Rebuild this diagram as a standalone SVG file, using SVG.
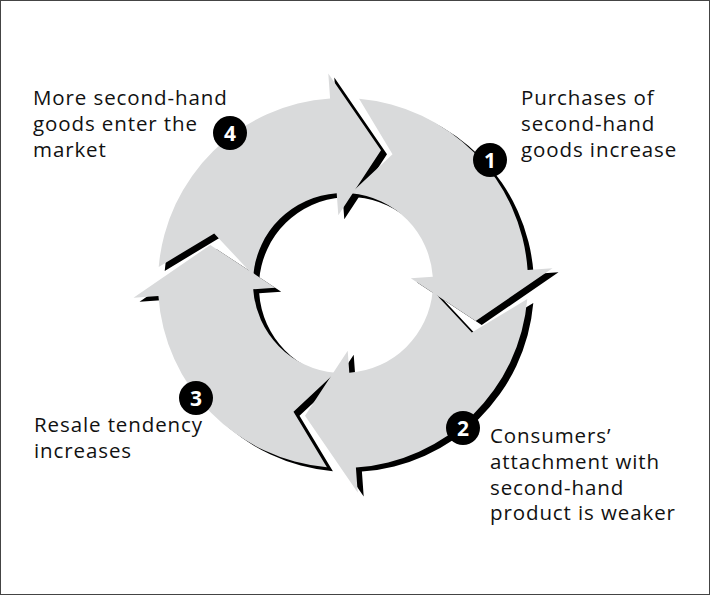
<svg xmlns="http://www.w3.org/2000/svg" width="710" height="595" viewBox="0 0 710 595">
<style>
.t{font-family:"Open Sans","Noto Sans",sans-serif;font-size:20.5px;letter-spacing:0.9px;fill:#111}
.n{font-family:"Open Sans","Noto Sans",sans-serif;font-size:21px;font-weight:bold;fill:#fff;text-anchor:middle}
.sh{fill:#000}
.ar{fill:#d9dadb}
</style>
<defs>
<path id="arr" d="M16.1,-184.3 A185,185 0 0 1 184.6,-12.9 L209.5,-14.7 L132.7,38 L67.8,-4.7 L89.8,-6.3 A90,90 0 0 0 7.8,-89.7 L49.5,-128.8 Z"/>
</defs>
<rect x="0.5" y="0.5" width="709" height="594" fill="#fff" stroke="#444"/>
<g id="connectors">
<g transform="translate(349,287)" class="sh">
<use href="#arr"/><use href="#arr" transform="rotate(90)"/><use href="#arr" transform="rotate(180)"/><use href="#arr" transform="rotate(270)"/>
</g>
<g transform="translate(343,283)" class="ar">
<use href="#arr"/><use href="#arr" transform="rotate(90)"/><use href="#arr" transform="rotate(180)"/><use href="#arr" transform="rotate(270)"/>
</g>
</g>
<g id="n1"><circle cx="490" cy="160" r="17"/><text class="n" x="490" y="168">1</text>
<text class="t" x="521" y="105">Purchases of</text><text class="t" x="521" y="131">second-hand</text><text class="t" x="521" y="157">goods increase</text></g>
<g id="n2"><circle cx="463" cy="428" r="17"/><text class="n" x="463" y="436">2</text>
<text class="t" x="490" y="443">Consumers’</text><text class="t" x="490" y="469">attachment with</text><text class="t" x="490" y="495">second-hand</text><text class="t" x="490" y="520">product is weaker</text></g>
<g id="n3"><circle cx="196" cy="398" r="17"/><text class="n" x="196" y="406">3</text>
<text class="t" x="34" y="432">Resale tendency</text><text class="t" x="34" y="458">increases</text></g>
<g id="n4"><circle cx="230" cy="133" r="17"/><text class="n" x="230" y="141">4</text>
<text class="t" x="33" y="105">More second-hand</text><text class="t" x="33" y="131">goods enter the</text><text class="t" x="33" y="157">market</text></g>
</svg>
